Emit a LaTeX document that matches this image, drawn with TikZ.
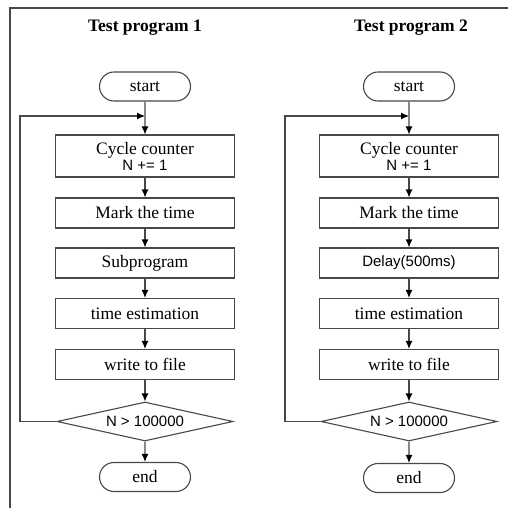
\documentclass[tikz,border=0pt]{standalone}
\usepackage{fontspec}
\setmainfont{Liberation Serif}
\setsansfont{Liberation Sans}
\usetikzlibrary{shapes.geometric,shapes.misc,arrows.meta}

\definecolor{linegray}{HTML}{484848}

\tikzset{
    stepbox/.style={draw=linegray, line width=1.1pt, minimum width=179pt, minimum height=30pt,
        inner sep=0pt, align=center, font=\fontsize{17.5}{17}\selectfont},
    termbox/.style={rounded rectangle, draw=linegray, line width=1.1pt, minimum width=91pt,
        minimum height=29pt, inner sep=0pt, font=\fontsize{17.5}{17}\selectfont},
    testbox/.style={diamond, aspect=4.5, draw=linegray, line width=1.1pt, minimum width=176pt,
        minimum height=39pt, inner sep=0pt, font=\sffamily\fontsize{15}{15}\selectfont},
    titlelabel/.style={font=\bfseries\fontsize{17.5}{17}\selectfont},
    arr/.style={draw=linegray, line width=1.1pt, -{Latex[length=8pt,width=7pt,color=black]}},
}

\begin{document}
\begin{tikzpicture}[x=1pt,y=-1pt]
    \useasboundingbox (0,0) rectangle (508,508);
    \draw[linegray, line width=1.4pt] (508,8) -- (10,8) -- (10,508);

    % test program 1
    \node[titlelabel] (t1) at (145,28) {Test program 1};
    \node[termbox] (s1) at (145,86.5) {start};
    \node[stepbox, minimum height=42pt] (c1) at (145,156)
        {Cycle counter\\[-1pt]{\sffamily\fontsize{15}{15}\selectfont N += 1}};
    \node[stepbox] (m1) at (145,213) {Mark the time};
    \node[stepbox] (p1) at (145,263) {Subprogram};
    \node[stepbox] (e1) at (145,313.5) {time estimation};
    \node[stepbox] (w1) at (145,364.5) {write to file};
    \node[testbox] (d1) at (145,421.5) {N > 100000};
    \node[termbox] (n1) at (145,477) {end};
    \coordinate (j1) at (145,116);
    \coordinate (l1) at (20,116);

    \draw[arr] (s1) -- (c1);
    \draw[arr] (c1) -- (m1);
    \draw[arr] (m1) -- (p1);
    \draw[arr] (p1) -- (e1);
    \draw[arr] (e1) -- (w1);
    \draw[arr] (w1) -- (d1);
    \draw[arr] (d1) -- (n1);
    \draw[arr] (d1.west) -| (l1) -- (j1);

    % test program 2
    \node[titlelabel] (t2) at (411,28) {Test program 2};
    \node[termbox] (s2) at (409,86.5) {start};
    \node[stepbox, minimum height=42pt] (c2) at (409,156)
        {Cycle counter\\[-1pt]{\sffamily\fontsize{15}{15}\selectfont N += 1}};
    \node[stepbox] (m2) at (409,213) {Mark the time};
    \node[stepbox, font=\sffamily\fontsize{15}{15}\selectfont] (p2) at (409,263) {Delay(500ms)};
    \node[stepbox] (e2) at (409,313.5) {time estimation};
    \node[stepbox] (w2) at (409,364.5) {write to file};
    \node[testbox] (d2) at (409,421.5) {N > 100000};
    \node[termbox] (n2) at (409,478) {end};
    \coordinate (j2) at (409,116);
    \coordinate (l2) at (285,116);

    \draw[arr] (s2) -- (c2);
    \draw[arr] (c2) -- (m2);
    \draw[arr] (m2) -- (p2);
    \draw[arr] (p2) -- (e2);
    \draw[arr] (e2) -- (w2);
    \draw[arr] (w2) -- (d2);
    \draw[arr] (d2) -- (n2);
    \draw[arr] (d2.west) -| (l2) -- (j2);
\end{tikzpicture}
\end{document}
